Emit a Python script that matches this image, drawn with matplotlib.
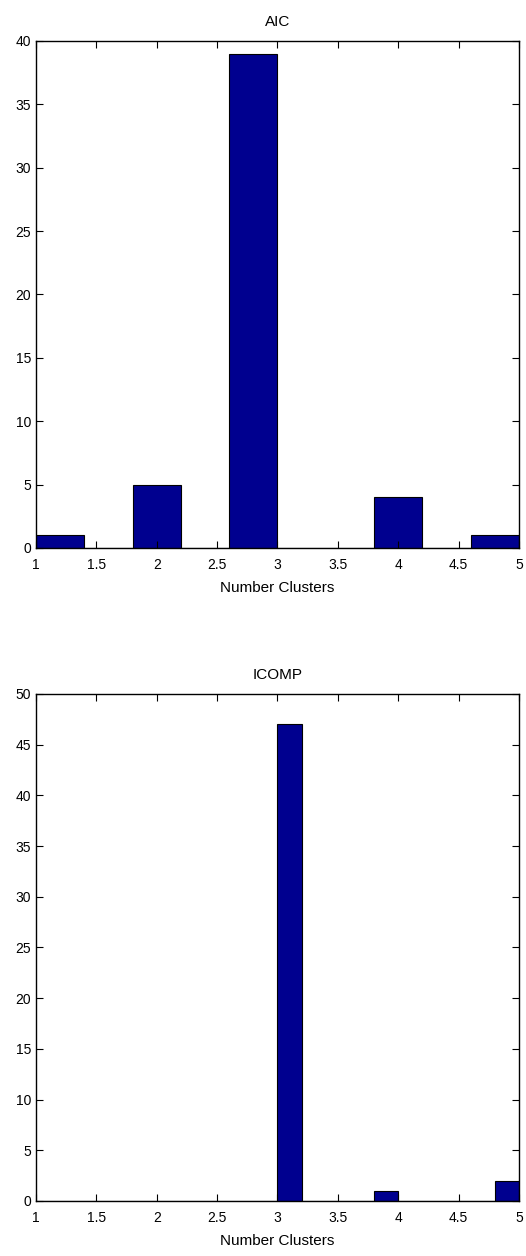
import matplotlib
matplotlib.use("Agg")
import matplotlib.pyplot as plt
import numpy as np

plt.rcParams['font.family'] = ['Liberation Sans', 'DejaVu Sans']

aic_edges = [1.0, 1.4, 1.8, 2.2, 2.6, 3.0, 3.4, 3.8, 4.2, 4.6, 5.0]
aic_counts = [1, 0, 5, 0, 39, 0, 0, 4, 0, 1]

icomp_edges = [1.0 + 0.2 * i for i in range(21)]
icomp_counts = [0, 0, 0, 0, 0, 0, 0, 0, 0, 0, 47, 0, 0, 0, 1, 0, 0, 0, 0, 2]

xticks = [1, 1.5, 2, 2.5, 3, 3.5, 4, 4.5, 5]
xticklabels = ['1', '1.5', '2', '2.5', '3', '3.5', '4', '4.5', '5']
aic_yticks = [0, 5, 10, 15, 20, 25, 30, 35, 40]
icomp_yticks = [0, 5, 10, 15, 20, 25, 30, 35, 40, 45, 50]

bar_color = (0, 0, 0.5625)
fs = 10
lfs = 11

fig = plt.figure(figsize=(5.26, 12.56), dpi=100)
ax1 = fig.add_axes([0.0684, 0.5637, 0.9183, 0.4037])
ax2 = fig.add_axes([0.0684, 0.0438, 0.9183, 0.4037])

def draw(ax, edges, counts, yticks, title):
    e = np.array(edges)
    widths = np.diff(e)
    ax.bar(e[:-1], counts, width=widths, align='edge', color=bar_color,
           edgecolor='black', linewidth=0.8)
    ax.set_xlim(1, 5)
    ax.set_ylim(yticks[0], yticks[-1])
    ax.set_xticks(xticks)
    ax.set_xticklabels(xticklabels, fontsize=fs)
    ax.set_yticks(yticks)
    ax.set_yticklabels([str(v) for v in yticks], fontsize=fs)
    ax.tick_params(direction='in', top=True, right=True, length=5, width=0.8)
    ax.tick_params(axis='x', pad=7.5)
    ax.tick_params(axis='y', pad=3.6)
    for s in ax.spines.values():
        s.set_linewidth(1.0)
    ax.set_title(title, fontsize=lfs, pad=11)
    ax.set_xlabel('Number Clusters', fontsize=lfs, labelpad=6)

draw(ax1, aic_edges, aic_counts, aic_yticks, 'AIC')
draw(ax2, icomp_edges, icomp_counts, icomp_yticks, 'ICOMP')

fig.savefig('out.png', dpi=100)
